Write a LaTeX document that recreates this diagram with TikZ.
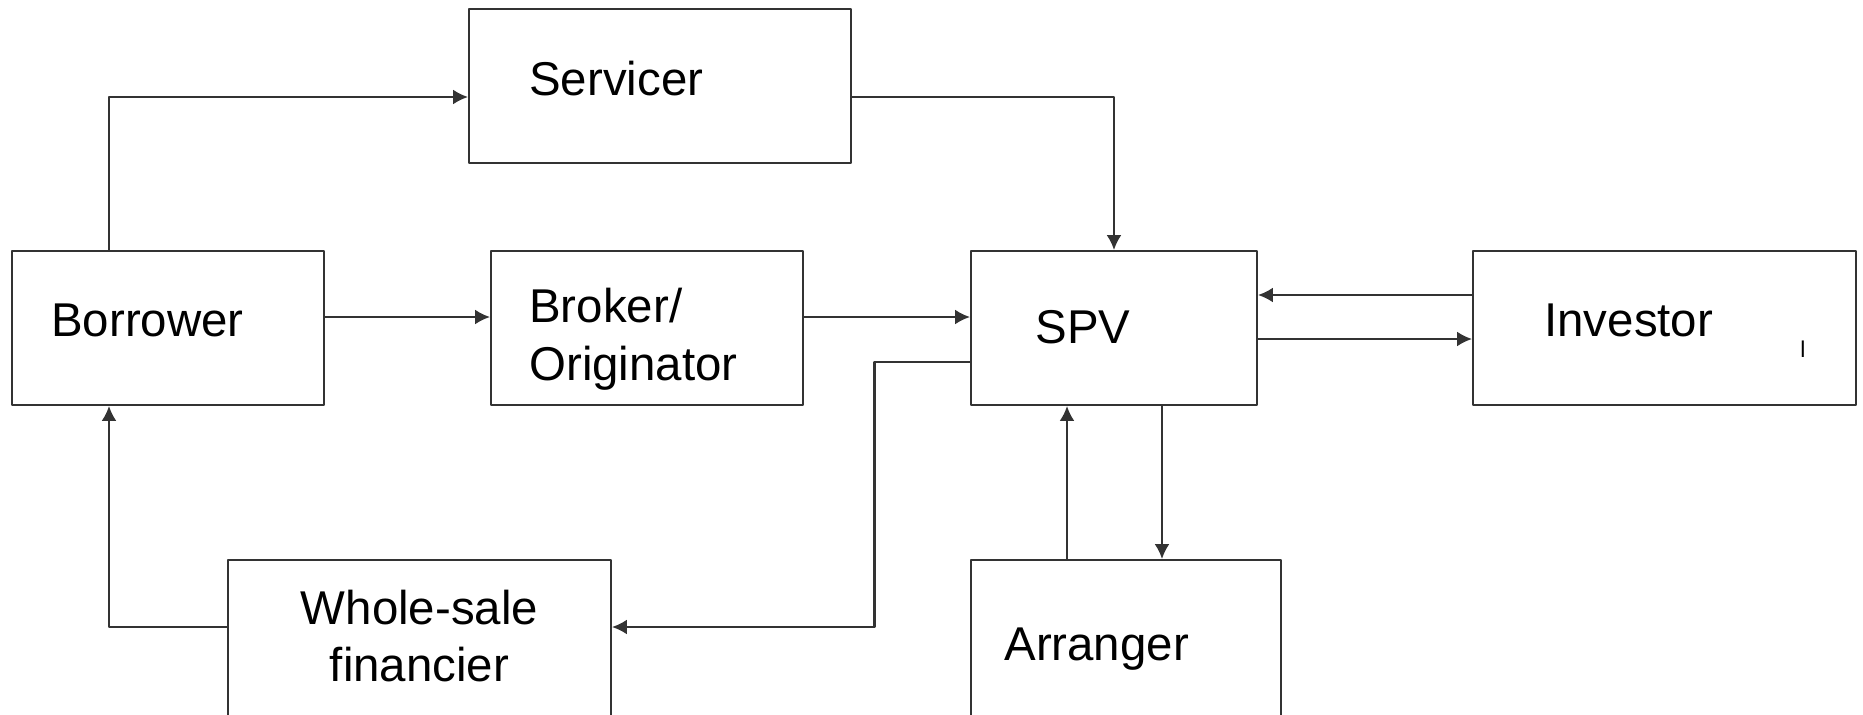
\documentclass[tikz,border=0pt]{standalone}
\usepackage{fontspec}
\setmainfont{Liberation Sans}
\usetikzlibrary{arrows.meta}

\begin{document}
\begin{tikzpicture}[x=0.02cm,y=-0.02cm,>={Latex[length=0.3cm,width=0.3cm]}, line join=round,
        box/.style={draw=black!80,line width=0.04cm,minimum height=3.08cm},
        txt/.style={inner sep=0pt,align=left,font=\fontsize{27}{32.7}\selectfont},
        link/.style={->,draw=black!80,line width=0.045cm}]
        \useasboundingbox (0,0) rectangle (1863,714);
        \clip (0,0) rectangle (1863,714);
        % boxes
        \node[box,minimum width=7.64cm,minimum height=3.07cm] (servicer) at (660,86) {};
        \node[box,minimum width=6.24cm] (borrower) at (168,328) {};
        \node[box,minimum width=6.24cm] (broker) at (647,328) {};
        \node[box,minimum width=5.72cm] (spv) at (1114,328) {};
        \node[box,minimum width=7.66cm] (investor) at (1664.5,328) {};
        \node[box,minimum width=7.66cm,minimum height=3.4cm] (wholesale) at (419.5,645) {};
        \node[box,minimum width=6.2cm,minimum height=3.4cm] (arranger) at (1126,645) {};
        % texts (base = last line)
        \node[txt,anchor=base west] (servicer-t) at (529,95) {Servicer};
        \node[txt,anchor=base west] (borrower-t) at (51,336.7) {Borrower};
        \node[txt,anchor=base west] (broker-t) at (529,380) {Broker/\\Originator};
        \node[txt,anchor=base west] (spv-t) at (1035,343) {SPV};
        \node[txt,anchor=base west] (investor-t) at (1544,336.7) {Investor};
        \node[txt,anchor=base,align=center] (wholesale-t) at (419.5,681.7) {Whole-sale\\financier};
        \node[txt,anchor=base west] (arranger-t) at (1004,660) {Arranger};
        \node[font=\fontsize{13}{13}\selectfont,inner sep=0pt] (mark) at (1803,349) {l};
        % flows
        \draw[link] ([xshift=-1.18cm]borrower.north) |- ([yshift=-0.22cm]servicer.west);
        \draw[link] ([yshift=0.22cm]borrower.east) -- ([yshift=0.22cm]broker.west);
        \draw[link] ([yshift=-0.22cm]servicer.east) -| (spv.north);
        \draw[link] ([yshift=0.22cm]broker.east) -- ([yshift=0.22cm]spv.west);
        \draw[link] ([yshift=-0.68cm]spv.west) -- ++(-95.5,0) |- ([yshift=0.36cm]wholesale.east);
        \draw[link] ([yshift=0.36cm]wholesale.west) -| ([xshift=-1.18cm]borrower.south);
        \draw[link] ([yshift=0.66cm]investor.west) -- ([yshift=0.66cm]spv.east);
        \draw[link] ([yshift=-0.22cm]spv.east) -- ([yshift=-0.22cm]investor.west);
        \draw[link] ([xshift=-1.18cm]arranger.north) -- ([xshift=-1.18cm]arranger.north |- spv.south);
        \draw[link] ([xshift=0.96cm]spv.south) -- ([xshift=0.96cm]spv.south |- arranger.north);
\end{tikzpicture}
\end{document}
